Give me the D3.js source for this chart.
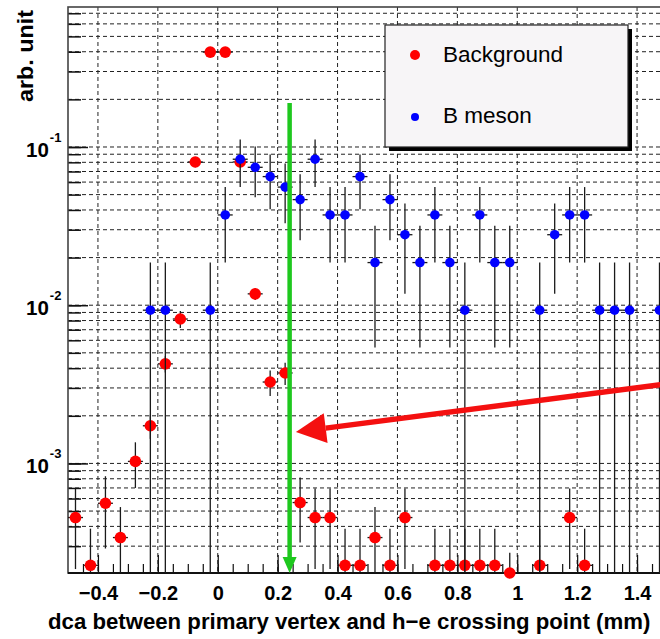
<!DOCTYPE html>
<html><head><meta charset="utf-8">
<script src="https://cdn.jsdelivr.net/npm/d3@7"></script>
<style>body{margin:0;background:#fff} svg{display:block}</style>
</head><body>
<svg id="c" width="660" height="639"></svg>
<script>
// ---- data ----
const bgX = [-0.475,-0.425,-0.375,-0.325,-0.275,-0.225,-0.175,-0.125,-0.075,-0.025,0.025,0.075,0.125,0.175,0.225,0.275,0.325,0.375,0.425,0.475,0.525,0.575,0.625,0.725,0.775,0.825,0.875,0.925,0.975,1.075,1.175,1.225];
const bgY = [4.55e-4,2.27e-4,5.6e-4,3.4e-4,1.03e-3,1.73e-3,4.26e-3,8.18e-3,0.0804,0.398,0.398,0.0804,0.0118,3.27e-3,3.73e-3,5.66e-4,4.55e-4,4.55e-4,2.27e-4,2.27e-4,3.4e-4,2.27e-4,4.55e-4,2.27e-4,2.27e-4,2.27e-4,2.27e-4,2.27e-4,2.03e-4,2.27e-4,4.55e-4,2.27e-4];
const bgErr = [2.4e-4,1.6e-4,2.7e-4,1.9e-4,3.3e-4,3e-4,5e-4,1.0e-3,0.006,0.02,0.02,0.006,1.0e-3,6e-4,6e-4,2.5e-4,2.4e-4,2.4e-4,1.6e-4,1.6e-4,1.9e-4,1.6e-4,2.4e-4,1.6e-4,1.6e-4,1.6e-4,1.6e-4,1.6e-4,0.7e-4,1.6e-4,2.4e-4,1.6e-4];

const bmX = [-0.225,-0.175,-0.025,0.025,0.075,0.125,0.175,0.225,0.275,0.325,0.375,0.425,0.475,0.525,0.575,0.625,0.675,0.725,0.775,0.825,0.875,0.925,0.975,1.075,1.125,1.175,1.225,1.275,1.325,1.375,1.475];
const bmY = [0.0093,0.0093,0.0093,0.0372,0.0837,0.0744,0.065,0.0558,0.0465,0.0837,0.0372,0.0372,0.065,0.0186,0.0465,0.0279,0.0186,0.0372,0.0186,0.0093,0.0372,0.0186,0.0186,0.0093,0.0279,0.0372,0.0372,0.0093,0.0093,0.0093,0.0093];
const bmErr = [0.0093,0.0093,0.0093,0.0186,0.0279,0.0263,0.0246,0.0228,0.0208,0.0279,0.0186,0.0186,0.0246,0.0132,0.0208,0.0161,0.0132,0.0186,0.0132,0.0093,0.0186,0.0132,0.0132,0.0093,0.0161,0.0186,0.0186,0.0093,0.0093,0.0093,0.0093];

const xTickVals = [-0.4,-0.2,0,0.2,0.4,0.6,0.8,1.0,1.2,1.4];
const xTickLabels = ["\u22120.4","\u22120.2","0","0.2","0.4","0.6","0.8","1","1.2","1.4"];
const yMajorVals = [1e-3,1e-2,1e-1];
const yMajorExp = ["-3","-2","-1"];
const legendLabels = ["Background","B meson"];
const cutValue = 0.24;           // green cut line position (mm)
const cutTop = 0.19;
const arrowTail = [1.5, 3.18e-3];
const arrowTip = [0.261, 1.58e-3];
const binHalf = 0.025;

// ---- chart ----
const svg = d3.select("#c");
const FONT = "'Liberation Sans', Arial, Helvetica, sans-serif";
const L = 68, T = 7, R = 667, B = 573;
const x = d3.scaleLinear().domain([-0.5,1.5]).range([L,R]);
const y = d3.scaleLog().domain([2.03e-4,0.767]).range([B,T]);

svg.append("rect").attr("width",660).attr("height",639).attr("fill","#fff");

// grid
const grid = svg.append("g").attr("stroke","#222").attr("stroke-width",1).attr("stroke-dasharray","4,3").attr("fill","none");
y.ticks().forEach(v=>{
  grid.append("line").attr("x1",L).attr("x2",R).attr("y1",y(v)).attr("y2",y(v));
});
xTickVals.forEach(v=>{
  grid.append("line").attr("x1",x(v)).attr("x2",x(v)).attr("y1",T).attr("y2",B);
});

// x axis ticks
const xMinor = svg.append("g").attr("transform",`translate(0,${B})`)
  .call(d3.axisBottom(x).tickValues(d3.range(-0.45,1.5,0.05)).tickSize(-9).tickFormat(""));
const xMajor = svg.append("g").attr("transform",`translate(0,${B})`)
  .call(d3.axisBottom(x).tickValues(xTickVals).tickSize(-18).tickPadding(12.5).tickFormat((d,i)=>xTickLabels[i]));
[xMinor,xMajor].forEach(g=>{
  g.select(".domain").remove();
  g.selectAll("line").attr("stroke","#111").attr("stroke-width",1.2);
});
xMajor.selectAll("text").attr("font-family",FONT).attr("font-size",20).attr("font-weight","bold").attr("fill","#000");

// y axis ticks
const yMinor = svg.append("g").attr("transform",`translate(${L},0)`)
  .call(d3.axisLeft(y).tickValues(y.ticks()).tickSize(-13).tickFormat(""));
const yMajor = svg.append("g").attr("transform",`translate(${L},0)`)
  .call(d3.axisLeft(y).tickValues(yMajorVals).tickSize(-20).tickFormat(""));
[yMinor,yMajor].forEach(g=>{
  g.select(".domain").remove();
  g.selectAll("line").attr("stroke","#111").attr("stroke-width",1.5);
});
yMajorVals.forEach((v,i)=>{
  const t = svg.append("text").attr("x",26).attr("y",y(v)+10)
    .attr("font-family",FONT).attr("font-weight","bold").attr("fill","#000");
  t.append("tspan").attr("font-size",20.5).text("10");
  t.append("tspan").attr("font-size",13).attr("dx",1).attr("dy",-15).text(yMajorExp[i]);
});

// frame
svg.append("rect").attr("x",L).attr("y",T).attr("width",R-L).attr("height",B-T)
  .attr("fill","none").attr("stroke","#444").attr("stroke-width",1.6);
svg.append("line").attr("x1",L).attr("x2",R).attr("y1",B).attr("y2",B).attr("stroke","#111").attr("stroke-width",2);

// error bars + markers
function series(xs, ys, es, color, r){
  const g = svg.append("g");
  xs.forEach((xv,i)=>{
    const v = ys[i], e = es[i];
    const lo = Math.max(v - e, y.domain()[0]);
    const hi = Math.min(v + e, y.domain()[1]);
    g.append("line").attr("x1",x(xv)).attr("x2",x(xv)).attr("y1",y(hi)).attr("y2",y(lo))
      .attr("stroke","#1a1a1a").attr("stroke-width",1.3);
    g.append("line").attr("x1",x(xv-binHalf)).attr("x2",x(xv+binHalf)).attr("y1",y(v)).attr("y2",y(v))
      .attr("stroke","#1a1a1a").attr("stroke-width",1.3);
  });
  g.selectAll("circle").data(xs).join("circle")
    .attr("cx",d=>x(d)).attr("cy",(d,i)=>y(ys[i])).attr("r",r).attr("fill",color);
}
series(bgX,bgY,bgErr,"#ff0000",5.8);
series(bmX,bmY,bmErr,"#0000ff",4.8);

// green cut arrow
const gx = x(cutValue);
svg.append("line").attr("x1",gx).attr("x2",gx).attr("y1",y(cutTop)).attr("y2",B-14)
  .attr("stroke","#1ec81e").attr("stroke-width",4.5);
svg.append("path").attr("d",`M${gx-7},${B-16}L${gx+7},${B-16}L${gx},${B}Z`).attr("fill","#1ec81e");

// red arrow
{
  const tx = x(arrowTail[0]), ty = y(arrowTail[1]);
  const px = x(arrowTip[0]), py = y(arrowTip[1]);
  const dx = tx-px, dy = ty-py, len = Math.hypot(dx,dy);
  const ux = dx/len, uy = dy/len;
  const hl = 30, hw = 15;
  const bx = px+ux*hl, by = py+uy*hl;
  svg.append("line").attr("x1",tx).attr("y1",ty).attr("x2",bx).attr("y2",by)
    .attr("stroke","#f41010").attr("stroke-width",5.5);
  svg.append("path").attr("d",`M${px},${py}L${bx-uy*hw},${by+ux*hw}L${bx+uy*hw},${by-ux*hw}Z`).attr("fill","#f41010");
}

// legend
svg.append("rect").attr("x",389).attr("y",29).attr("width",243).attr("height",122).attr("fill","#000");
svg.append("rect").attr("x",385).attr("y",25).attr("width",243).attr("height",122)
  .attr("fill","#f7f5f7").attr("stroke","#222").attr("stroke-width",1.2);
const legColors = ["#ff0000","#0000ff"], legR = [5,4], legY = [55,117], legBase = [62,123];
legendLabels.forEach((lab,i)=>{
  svg.append("circle").attr("cx",415).attr("cy",legY[i]).attr("r",legR[i]).attr("fill",legColors[i]);
  svg.append("text").attr("x",443).attr("y",legBase[i]).attr("font-family",FONT).attr("font-size",22.5)
    .attr("fill","#000").text(lab);
});

// axis titles
svg.append("text").attr("transform","translate(33,10) rotate(-90)").attr("text-anchor","end")
  .attr("font-family",FONT).attr("font-weight","bold").attr("font-size",22)
  .attr("textLength",92).attr("lengthAdjust","spacingAndGlyphs").text("arb. unit");
svg.append("text").attr("x",48).attr("y",629)
  .attr("font-family",FONT).attr("font-weight","bold").attr("font-size",22.2)
  .text("dca between primary vertex and h\u2212e crossing point (mm)");
</script>
</body></html>
